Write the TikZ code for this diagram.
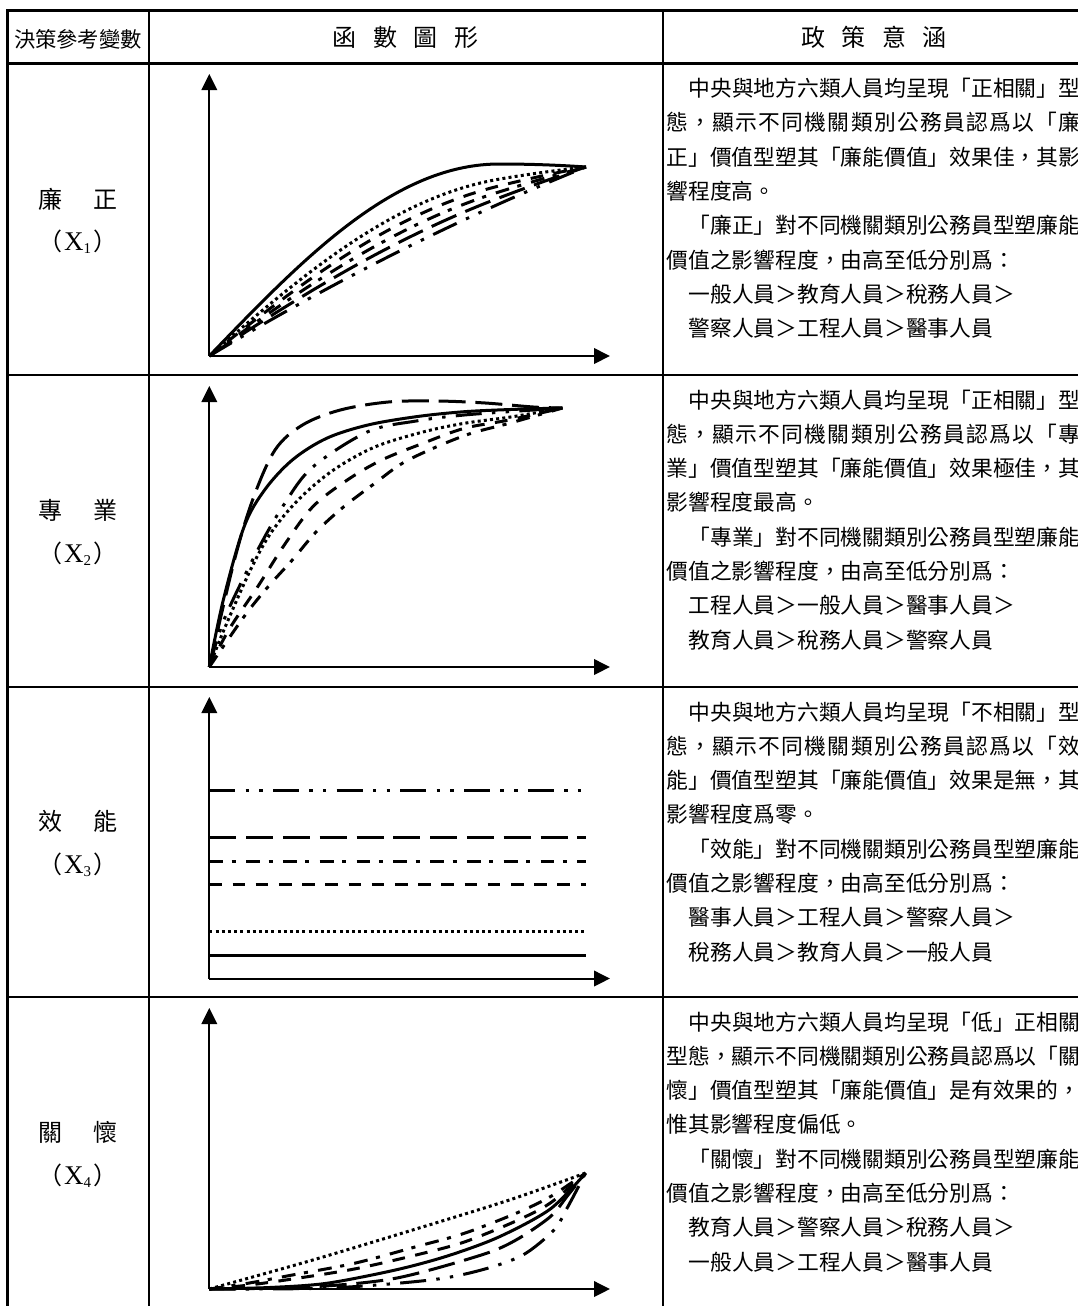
\documentclass[tikz,border=0pt]{standalone}
\usepackage{fontspec}
\setmainfont{Liberation Serif}
\newfontfamily\cjk{Noto Sans CJK TC}
\usetikzlibrary{arrows.meta}
\makeatletter
\newcommand\jspread[2]{\def\js@first{1}\@tfor\js@c:=#2\do{\ifx\js@first\@empty\hspace*{#1}\fi\js@c\let\js@first\@empty}}
\makeatother
\newcommand\xlab[1]{（\hspace{2pt}{\rmfamily\fontsize{27pt}{27pt}\selectfont X}\raisebox{-3pt}{\rmfamily\fontsize{15pt}{15pt}\selectfont #1}\hspace{3pt}）}
\tikzset{
  touter/.style={line width=3pt},
  tline/.style={line width=2.6pt},
  axarrow/.style={line width=2pt,-{Triangle[length=16pt,width=15.5pt]}},
  crv/.style={line width=3pt,line join=round},
  csolid/.style={crv},
  cdot/.style={crv,dash pattern=on 3pt off 3.2pt},
  cdash/.style={crv,dash pattern=on 12.7pt off 10.5pt},
  cdashdot/.style={crv,dash pattern=on 13.8pt off 8.6pt on 4.1pt off 10.3pt},
  clong/.style={crv,dash pattern=on 27pt off 9.8pt},
  clongdd/.style={crv,dash pattern=on 26pt off 10.3pt on 3.4pt off 10.3pt on 3.4pt off 10.3pt},
  txt/.style={anchor=base west,inner sep=0pt,font=\cjk\fontsize{21.76pt}{26pt}\selectfont},
  hdr/.style={anchor=base,inner sep=0pt,font=\cjk\fontsize{24pt}{28pt}\selectfont},
  hdrA/.style={anchor=base,inner sep=0pt,font=\cjk\fontsize{21.3pt}{26pt}\selectfont},
  lab/.style={anchor=base,inner sep=0pt,font=\cjk\fontsize{24pt}{28pt}\selectfont},
}
\begin{document}
\begin{tikzpicture}[x=1pt,y=-1pt]
\useasboundingbox (0,0) rectangle (1078,1306);
\clip (0,0) rectangle (1078,1306);
% ---------- table ----------
\draw[touter] (7.7,11) rectangle (1085,1309);
\foreach \yy in {63.5,375,687,997} \draw[tline] (7.7,\yy) -- (1085,\yy);
\foreach \xx in {149,663} \draw[tline] (\xx,11) -- (\xx,1309);
% ---------- headers ----------
\node[hdrA] (h1) at (78,48) {決策參考變數};
\node[hdr] (h2) at (405.7,47) {函\hspace{16.5pt}數\hspace{16.5pt}圖\hspace{16.5pt}形};
\node[hdr] (h3) at (874,47) {政\hspace{16.5pt}策\hspace{16.5pt}意\hspace{16.5pt}涵};
% ---------- left labels ----------
\node[lab] (v1) at (78,208) {廉\hspace{31pt}正};
\node[lab] (x1) at (78,250.5) {\xlab{1}};
\node[lab] (v2) at (78,519.5) {專\hspace{31pt}業};
\node[lab] (x2) at (78,562) {\xlab{2}};
\node[lab] (v3) at (78,830.5) {效\hspace{31pt}能};
\node[lab] (x3) at (78,873) {\xlab{3}};
\node[lab] (v4) at (78,1141.5) {關\hspace{31pt}懷};
\node[lab] (x4) at (78,1184) {\xlab{4}};
% ---------- axes ----------
\coordinate (o1) at (209.3,356);   \coordinate (ya1) at (209.3,74);   \coordinate (xa1) at (610,356);
\coordinate (o2) at (209.3,667);   \coordinate (ya2) at (209.3,386);  \coordinate (xa2) at (610,667);
\coordinate (o3) at (209.3,978.5); \coordinate (ya3) at (209.3,697);  \coordinate (xa3) at (610,978.5);
\coordinate (o4) at (209.3,1289);  \coordinate (ya4) at (209.3,1008); \coordinate (xa4) at (610,1289);
\foreach \i in {1,2,3,4} {
  \draw[axarrow] (o\i) -- (ya\i);
  \draw[axarrow] (o\i) -- (xa\i);
}
% ---------- row 1 curves ----------
\begin{scope}[shift={(o1)},yscale=-1]
\foreach \w/\st in {1/clongdd,0.85/clong,0.7/cdashdot,0.55/cdash,0.38/cdot,0/csolid}
  \draw[\st] plot[domain=0:376.7,samples=90]
    (\x,{(1-\w)*(192*sin(min(\x,290)/290*90)-3*(max(\x-290,0)/86.7)^2)+\w*189*(1.2*\x/376.7-0.2*(\x/376.7)^2)});
\end{scope}
% ---------- row 2 curves ----------
\begin{scope}[shift={(o2)},yscale=-1]
\draw[cdashdot] plot[smooth,tension=0.55] coordinates {(0,0) (34.7,50.3) (58.8,80.3) (83,107) (107,135.3) (134.5,160.3) (165.5,183.7) (193,203.7) (227.5,220.3) (262,233.7) (299.8,243.7) (353.2,259)};
\draw[cdash] plot[smooth,tension=0.55] coordinates {(0,0) (20,38) (48.4,80.3) (75,122) (103.5,160.3) (138,187) (172.4,207) (213.7,223.7) (255,238.7) (299.8,247) (353.2,259)};
\draw[cdot] plot[smooth,tension=0.55] coordinates {(0,0) (15,38) (41.6,98) (62.2,135) (89.8,168) (124.2,197) (165.5,220) (213.7,235) (255,243.7) (303.3,250.3) (353.2,259)};
\draw[clongdd] plot[smooth,tension=0.55] coordinates {(0,0) (15,48) (48.4,117) (75,163) (103.5,200) (158.6,235.3) (206.8,246) (255,252) (324,257) (353.2,259)};
\draw[csolid] plot[smooth,tension=0.55] coordinates {(0,0) (14,67) (34.7,140) (55.3,177) (83,207) (117.3,228.7) (158.6,242) (206.8,250.3) (255,255.3) (306.7,257.7) (353.2,259)};
\draw[clong] plot[smooth,tension=0.55] coordinates {(0,0) (24.3,103.7) (43.3,167) (65.7,217) (93.2,242) (131,257) (179,265) (227.5,266) (276,264) (324,260) (353.2,259)};
\end{scope}
% ---------- row 3 lines ----------
\draw[clongdd] (209.3,790) -- (585.6,790);
\draw[clong] (209.3,837) -- (585.6,837);
\draw[cdashdot] (209.3,861) -- (585.6,861);
\draw[cdash] (209.3,884) -- (585.6,884);
\draw[cdot] (209.3,931) -- (585.6,931);
\draw[csolid] (209.3,955) -- (585.6,955);
% ---------- row 4 curves ----------
\begin{scope}[shift={(o4)},yscale=-1]
\draw[clongdd] plot[smooth,tension=0.5] coordinates {(0,0) (120,1) (221,9) (272,19) (313.6,34) (344.6,59) (358.4,82) (376.3,116)};
\draw[clong] plot[smooth,tension=0.5] coordinates {(0,0) (100,2) (186,10.7) (272,34) (306.7,49) (341,72.3) (358,93) (376.3,116)};
\draw[csolid] plot[smooth,tension=0.5] coordinates {(0,0) (60,1.5) (117.3,5.7) (186,19) (238,33) (289.5,52) (341,80) (376.3,116)};
\draw[cdash] plot[smooth,tension=0.5] coordinates {(0,0) (40,4) (83,10) (145,20) (206.8,34) (255,47) (306.7,68) (341,86) (376.3,116)};
\draw[cdashdot] plot[smooth,tension=0.5] coordinates {(0,0) (40,6) (83,14) (145,25.7) (206.8,42.3) (255,55.7) (306.7,75.7) (341,92.3) (376.3,116)};
\draw[cdot] plot[smooth,tension=0.5] coordinates {(0,0) (100,28) (200,58) (300,89) (376.3,116)};
\end{scope}
% ---------- row 1 text ----------
\node[txt] (a1) at (688.3,96.5) {中央與地方六類人員均呈現「正相關」型};
\node[txt] (a2) at (666.5,130.8) {\jspread{1.28pt}{態，顯示不同機關類別公務員認爲以「廉}};
\node[txt] (a3) at (666.5,165.1) {正」價值型塑其「廉能價值」效果佳，其影};
\node[txt] (a4) at (666.5,199.4) {響程度高。};
\node[txt] (a5) at (688.3,233.7) {「廉正」對不同機關類別公務員型塑廉能};
\node[txt] (a6) at (666.5,268) {價值之影響程度，由高至低分別爲：};
\node[txt] (a7) at (688.3,302.3) {一般人員＞教育人員＞稅務人員＞};
\node[txt] (a8) at (688.3,336.6) {警察人員＞工程人員＞醫事人員};
% ---------- row 2 text ----------
\node[txt] (b1) at (688.3,408) {中央與地方六類人員均呈現「正相關」型};
\node[txt] (b2) at (666.5,442.3) {\jspread{1.28pt}{態，顯示不同機關類別公務員認爲以「專}};
\node[txt] (b3) at (666.5,476.6) {業」價值型塑其「廉能價值」效果極佳，其};
\node[txt] (b4) at (666.5,510.9) {影響程度最高。};
\node[txt] (b5) at (688.3,545.2) {「專業」對不同機關類別公務員型塑廉能};
\node[txt] (b6) at (666.5,579.5) {價值之影響程度，由高至低分別爲：};
\node[txt] (b7) at (688.3,613.8) {工程人員＞一般人員＞醫事人員＞};
\node[txt] (b8) at (688.3,648.1) {教育人員＞稅務人員＞警察人員};
% ---------- row 3 text ----------
\node[txt] (c1) at (688.3,720) {中央與地方六類人員均呈現「不相關」型};
\node[txt] (c2) at (666.5,754.3) {\jspread{1.28pt}{態，顯示不同機關類別公務員認爲以「效}};
\node[txt] (c3) at (666.5,788.6) {能」價值型塑其「廉能價值」效果是無，其};
\node[txt] (c4) at (666.5,822.9) {影響程度爲零。};
\node[txt] (c5) at (688.3,857.2) {「效能」對不同機關類別公務員型塑廉能};
\node[txt] (c6) at (666.5,891.5) {價值之影響程度，由高至低分別爲：};
\node[txt] (c7) at (688.3,925.8) {醫事人員＞工程人員＞警察人員＞};
\node[txt] (c8) at (688.3,960.1) {稅務人員＞教育人員＞一般人員};
% ---------- row 4 text ----------
\node[txt] (d1) at (688.3,1030) {中央與地方六類人員均呈現「低」正相關};
\node[txt] (d2) at (666.5,1064.3) {型態，顯示不同機關類別公務員認爲以「關};
\node[txt] (d3) at (666.5,1098.6) {懷」價值型塑其「廉能價值」是有效果的，};
\node[txt] (d4) at (666.5,1132.9) {惟其影響程度偏低。};
\node[txt] (d5) at (688.3,1167.2) {「關懷」對不同機關類別公務員型塑廉能};
\node[txt] (d6) at (666.5,1201.5) {價值之影響程度，由高至低分別爲：};
\node[txt] (d7) at (688.3,1235.8) {教育人員＞警察人員＞稅務人員＞};
\node[txt] (d8) at (688.3,1270.1) {一般人員＞工程人員＞醫事人員};
\end{tikzpicture}
\end{document}
